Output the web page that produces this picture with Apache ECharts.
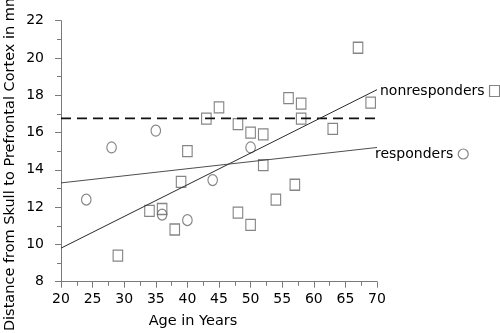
<!DOCTYPE html>
<html>
<head>
<meta charset="utf-8">
<style>
  html, body { margin: 0; padding: 0; background: #fff; }
  #chart { width: 500px; height: 333px; }
</style>
<script src="https://cdn.jsdelivr.net/npm/echarts@6/dist/echarts.min.js"></script>
</head>
<body>
<div id="chart"></div>
<script>
// Responders (circles): age in years, distance in mm
const respAge  = [24, 28, 35, 36, 40, 44, 50];
const respDist = [12.4, 15.2, 16.1, 11.6, 11.3, 13.45, 15.2];

// Nonresponders (squares)
const nonAge  = [29, 34, 36, 38, 39, 40, 43, 45, 48, 48, 50, 50, 52, 52, 54, 56, 57, 58, 58, 63, 67, 69];
const nonDist = [9.4, 11.8, 11.9, 10.8, 13.35, 15.0, 16.75, 17.35, 16.45, 11.7, 16.0, 11.05, 15.9, 14.25, 12.4, 17.85, 13.2, 17.55, 16.75, 16.2, 20.55, 17.6];

// Regression lines, given by their end points
const fitAges  = [20, 70];
const respFit  = [13.3, 15.2];
const nonFit   = [9.8, 18.3];

// Horizontal dashed reference level
const refAges  = [20, 72.5];
const refLevel = 16.76;

const xTicks = { min: 20, max: 70, step: 5 };
const yTicks = { min: 8, max: 22, step: 2 };

const FONT = 'DejaVu Sans';
const AXIS_GRAY = '#7a7a7a';
const MARK_GRAY = '#666';

const zip = (xs, ys) => xs.map((x, i) => [x, ys[i]]);

const chart = echarts.init(document.getElementById('chart'), null, { renderer: 'canvas' });

const axisCommon = {
  type: 'value',
  splitLine: { show: false },
  axisLine: { show: true, lineStyle: { color: AXIS_GRAY, width: 1 } },
  axisTick: { show: true, length: 6, lineStyle: { color: AXIS_GRAY, width: 1 } },
  minorTick: { show: true, splitNumber: 2, length: 4, lineStyle: { color: AXIS_GRAY, width: 1 } },
  axisLabel: { color: '#000', fontFamily: FONT, fontSize: 14 }
};

const hollowMark = { color: 'rgba(255,255,255,0)', borderColor: MARK_GRAY, borderWidth: 1.2 };

const legendCommon = {
  padding: 0, align: 'right', itemWidth: 10, itemHeight: 11,
  selectedMode: false,
  itemStyle: hollowMark,
  textStyle: { color: '#000', fontFamily: FONT, fontSize: 14 }
};

chart.setOption({
  animation: false,
  backgroundColor: '#fff',
  grid: { left: 61, right: 123, top: 20.7, bottom: 51.3, containLabel: false },
  xAxis: Object.assign({}, axisCommon, {
    min: xTicks.min, max: xTicks.max, interval: xTicks.step,
    axisLabel: Object.assign({}, axisCommon.axisLabel, { margin: 11 })
  }),
  yAxis: Object.assign({}, axisCommon, {
    min: yTicks.min, max: yTicks.max, interval: yTicks.step,
    axisLabel: Object.assign({}, axisCommon.axisLabel, { margin: 17 })
  }),
  legend: [
    Object.assign({}, legendCommon, {
      data: [{ name: 'nonresponders', icon: 'rect', itemStyle: hollowMark }],
      left: 380, top: 84
    }),
    Object.assign({}, legendCommon, {
      data: [{ name: 'responders', icon: 'circle', itemStyle: hollowMark }],
      left: 375, top: 147
    })
  ],
  graphic: [
    {
      type: 'text', x: 10, y: 162, rotation: Math.PI / 2,
      style: {
        text: 'Distance from Skull to Prefrontal Cortex in mm',
        fill: '#000', font: '14.5px "' + FONT + '"',
        textAlign: 'center', textVerticalAlign: 'middle'
      }
    },
    {
      type: 'text', x: 193, y: 321,
      style: {
        text: 'Age in Years',
        fill: '#000', font: '14.5px "' + FONT + '"',
        textAlign: 'center', textVerticalAlign: 'middle'
      }
    }
  ],
  series: [
    {
      name: 'reference',
      type: 'line',
      data: zip(refAges, refAges.map(() => refLevel)),
      symbol: 'none', clip: false, silent: true,
      lineStyle: { color: '#111', width: 1.6, type: [10, 6] }
    },
    {
      name: 'nonresponders fit',
      type: 'line',
      data: zip(fitAges, nonFit),
      symbol: 'none', silent: true,
      lineStyle: { color: '#2a2a2a', width: 1 }
    },
    {
      name: 'responders fit',
      type: 'line',
      data: zip(fitAges, respFit),
      symbol: 'none', silent: true,
      lineStyle: { color: '#3a3a3a', width: 0.9 }
    },
    {
      name: 'nonresponders',
      type: 'scatter',
      data: zip(nonAge, nonDist),
      symbol: 'rect', symbolSize: [9.5, 11],
      itemStyle: hollowMark
    },
    {
      name: 'responders',
      type: 'scatter',
      data: zip(respAge, respDist),
      symbol: 'circle', symbolSize: [9.5, 11],
      itemStyle: hollowMark
    }
  ]
});
</script>
</body>
</html>
